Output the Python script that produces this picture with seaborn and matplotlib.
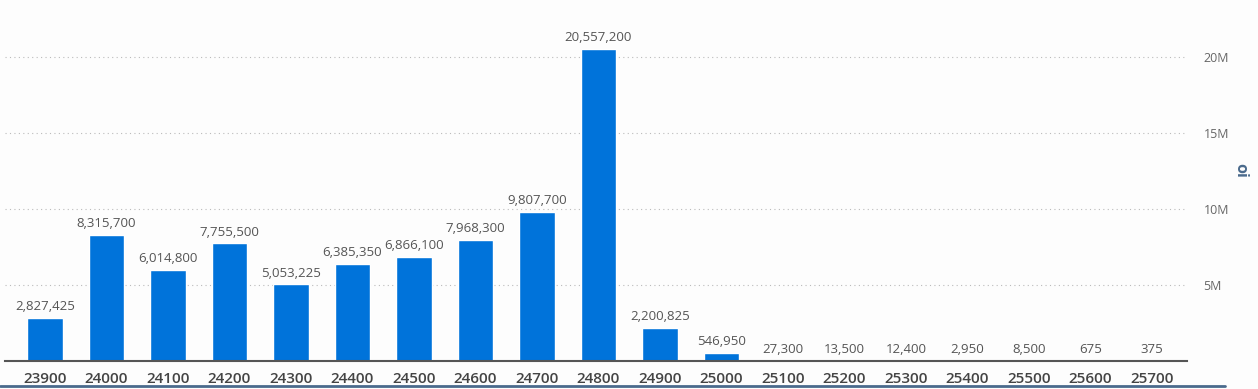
import pandas as pd
import matplotlib.pyplot as plt
import seaborn as sns
from matplotlib.ticker import FuncFormatter

strikes = ["23900", "24000", "24100", "24200", "24300", "24400", "24500", "24600", "24700", "24800",
           "24900", "25000", "25100", "25200", "25300", "25400", "25500", "25600", "25700"]
oi = [2827425, 8315700, 6014800, 7755500, 5053225, 6385350, 6866100, 7968300, 9807700, 20557200,
      2200825, 546950, 27300, 13500, 12400, 2950, 8500, 675, 375]

df = pd.DataFrame({"strike": strikes, "oi": oi})

sns.set_style("white")
plt.rcParams['font.family'] = ['Open Sans', 'DejaVu Sans']

fig = plt.figure(figsize=(12.58, 3.89), dpi=100, facecolor="#fdfdfd")
ax = fig.add_axes([5 / 1258, 1 - 361 / 389, 1182 / 1258, 361 / 389])
ax.set_facecolor("#fdfdfd")

sns.barplot(data=df, x="strike", y="oi", color="#0073da", saturation=1, width=0.58, ax=ax)

# value labels above bars
for i, v in enumerate(oi):
    ax.text(i, v + 300000, f"{v:,}", ha="center", va="bottom", fontsize=9.5, color="#555555")

ax.set_xlim(-0.65, 18.57)
ax.set_ylim(0, 23.75e6)
ax.set_yticks([5e6, 10e6, 15e6, 20e6])
ax.yaxis.set_major_formatter(FuncFormatter(lambda v, p: f"{int(v / 1e6)}M"))
ax.yaxis.tick_right()
ax.tick_params(axis="y", length=0, pad=12, labelsize=9, labelcolor="#666666")
ax.tick_params(axis="x", length=0, pad=8, labelsize=11, labelcolor="#444444")
for lbl in ax.get_xticklabels():
    lbl.set_fontweight("semibold")
ax.grid(axis="y", linestyle=(0, (1, 3)), color="#bbbbbb", linewidth=0.8)
ax.set_axisbelow(True)

for side in ["top", "left", "right"]:
    ax.spines[side].set_visible(False)
ax.spines["bottom"].set_color("#555555")
ax.spines["bottom"].set_linewidth(1.5)

ax.set_xlabel("")
ax.set_ylabel("")
fig.text(1240 / 1258, 1 - 170 / 389, "oi", rotation=270, ha="center", va="center",
         fontsize=11.5, fontweight="bold", color="#4a6a8c")

# bottom bar line
fig.add_artist(plt.Line2D([0, 1225 / 1258], [1 - 386 / 389] * 2, color="#4a6a8c", linewidth=2))

fig.savefig("out.png", dpi=100, facecolor=fig.get_facecolor())
